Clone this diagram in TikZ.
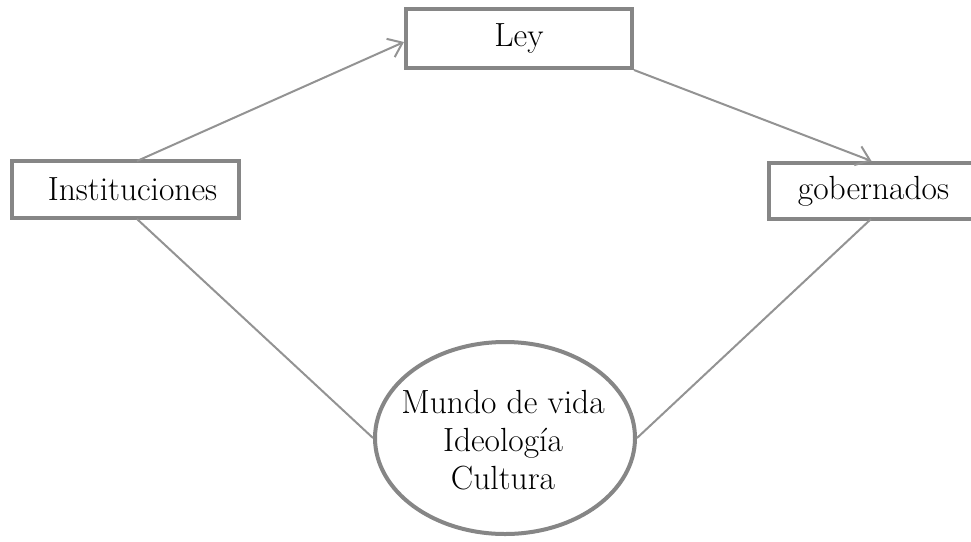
\documentclass[tikz,border=0pt]{standalone}
\usepackage{fontspec}
\usetikzlibrary{arrows.meta,shapes.geometric}
\tikzset{
  box/.style={rectangle, draw=gray!95, line width=4pt, fill=white, inner sep=0pt,
    font=\fontsize{33.5}{38}\selectfont},
  blob/.style={ellipse, draw=gray!95, line width=4pt, fill=white, inner sep=0pt,
    minimum width=260pt, minimum height=192pt},
  blobtext/.style={align=center, inner sep=0pt, font=\fontsize{33.5}{38}\selectfont},
  link/.style={gray!85, line width=2pt},
  linkarrow/.style={-{Straight Barb[length=13pt,width=20pt,line width=2pt]}}
}
\begin{document}
\begin{tikzpicture}[x=1pt,y=-1pt]
    \useasboundingbox (0,0) rectangle (971,541);
    \coordinate (it) at (137,161);
    \coordinate (ib) at (137,219);
    \coordinate (gb) at (871,219);
    \node [box, minimum width=226pt, minimum height=59pt] (ley) at (519,38.5) {Ley};
    \node [box, minimum width=227pt, minimum height=57pt] (inst) at (125.5,189.5) {\hspace{14pt}Instituciones};
    \node [box, minimum width=209pt, minimum height=56pt] (gob) at (873.5,191) {gobernados};
    \node [blob] (mundo) at (505,438) {};
    \node [blobtext] (mundotxt) at (503,440) {Mundo de vida\\Ideología\\Cultura};

    \path[link, linkarrow]
                (it) edge ([yshift=-3.5pt]ley.west)
                (ley.south east) edge ([xshift=-2pt]gob.north);
    \path[link]
                (ib) edge (mundo.west)
                (gb) edge (mundo.east);
\end{tikzpicture}
\end{document}
